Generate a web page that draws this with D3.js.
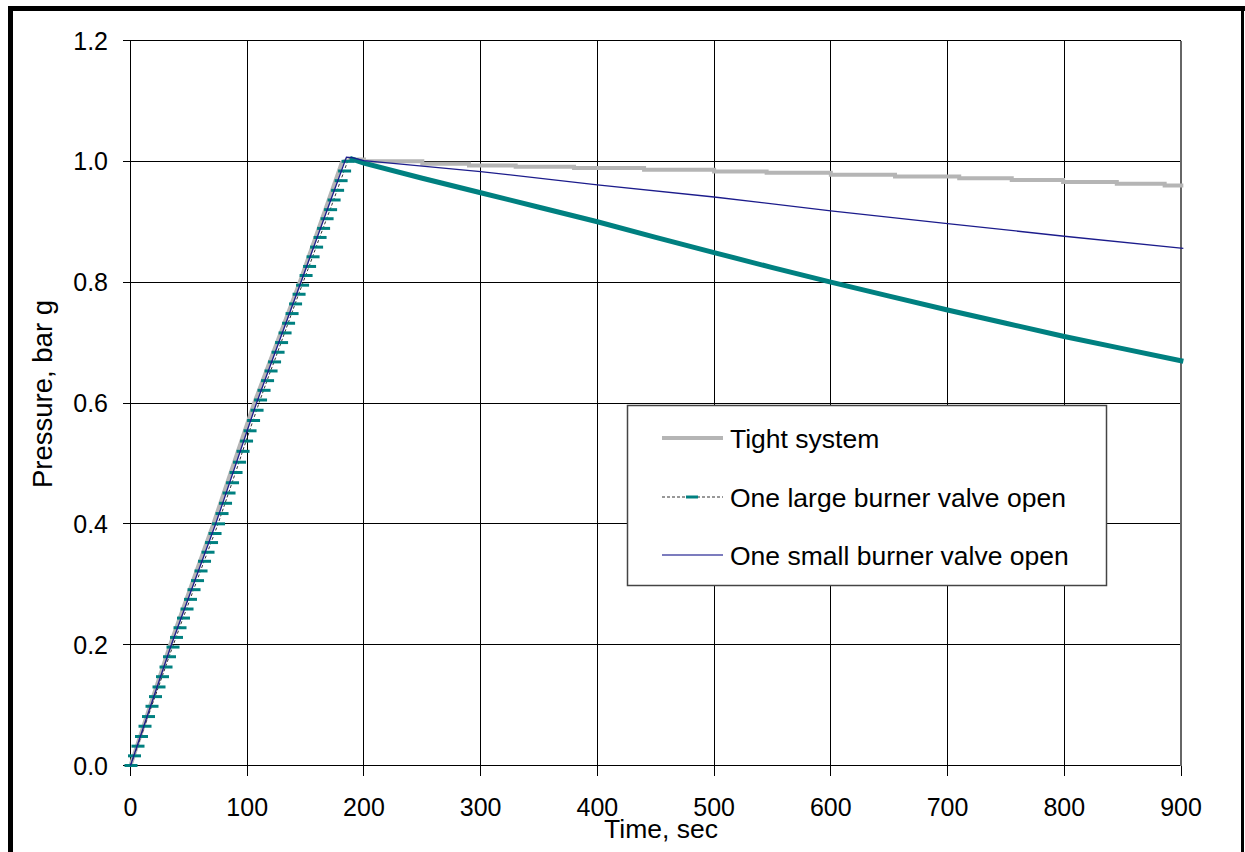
<html>
<head>
<style>
  body { margin: 0; background: #ffffff; }
  svg text { font-family: Arial, "Liberation Sans", sans-serif; fill: #000; }
</style>
<script src="https://cdn.jsdelivr.net/npm/d3@7"></script>
</head>
<body>
<svg id="chart" width="1245" height="852"></svg>
<script>
// axis ticks
const xTicks = [0, 100, 200, 300, 400, 500, 600, 700, 800, 900];
const yTicks = [0.0, 0.2, 0.4, 0.6, 0.8, 1.0, 1.2];

// Tight system: ramp then slow stepwise decay  [time s, pressure bar g]
const tightRamp = [[0, 0], [34, 0.2], [71, 0.4], [106, 0.6], [145, 0.8], [176, 0.97], [181, 0.998], [186, 1.003]];
const tightDecay = [[186, 1.003], [200, 1.000], [250, 0.996], [290, 0.993], [330, 0.991], [380, 0.989], [440, 0.986],
  [500, 0.983], [545, 0.981], [600, 0.978], [655, 0.975], [710, 0.972], [755, 0.969], [799, 0.966], [845, 0.963], [886, 0.960], [902, 0.960]];

// One large burner valve open: logged every ~3 s during fill, then decay
const largeRamp = [[0, 0.000], [3, 0.016], [6, 0.032], [9, 0.048], [12, 0.065], [15, 0.081], [18, 0.098], [21, 0.114],
  [24, 0.130], [27, 0.147], [30, 0.163], [33, 0.180], [36, 0.196], [39, 0.212], [42, 0.228], [45, 0.244], [48, 0.259],
  [51, 0.275], [54, 0.291], [57, 0.306], [60, 0.322], [63, 0.338], [66, 0.353], [69, 0.369], [72, 0.384], [75, 0.400],
  [78, 0.417], [81, 0.434], [84, 0.451], [87, 0.468], [90, 0.485], [93, 0.502], [96, 0.520], [99, 0.537], [102, 0.554],
  [105, 0.571], [108, 0.588], [111, 0.605], [114, 0.621], [117, 0.637], [120, 0.653], [123, 0.668], [126, 0.684],
  [129, 0.700], [132, 0.716], [135, 0.732], [138, 0.748], [141, 0.764], [144, 0.780], [147, 0.795], [150, 0.811],
  [153, 0.826], [156, 0.842], [159, 0.858], [162, 0.874], [165, 0.889], [168, 0.905], [171, 0.920], [174, 0.936],
  [177, 0.952], [180, 0.968], [183, 0.984], [186, 1.000]];
const largeDecay = [[188, 1.005], [200, 0.997], [250, 0.972], [300, 0.948], [350, 0.924], [400, 0.900], [450, 0.874],
  [500, 0.849], [550, 0.824], [600, 0.800], [650, 0.777], [700, 0.754], [750, 0.732], [800, 0.710], [850, 0.690], [902, 0.669]];

// One small burner valve open
const smallValve = [[0, 0], [35, 0.2], [73, 0.4], [108, 0.6], [146, 0.8], [178, 0.97], [185, 1.007], [190, 1.006],
  [200, 1.001], [300, 0.983], [400, 0.961], [500, 0.941], [600, 0.918], [700, 0.897], [800, 0.876], [902, 0.856]];

const legendItems = ["Tight system", "One large burner valve open", "One small burner valve open"];

const svg = d3.select("#chart");
const x = d3.scaleLinear().domain([0, 900]).range([130.5, 1181]);
const y = d3.scaleLinear().domain([0, 1.2]).range([765.5, 40.5]);
const line = d3.line().x(d => x(d[0])).y(d => y(d[1]));

// outer frame
svg.append("line").attr("x1", 8).attr("x2", 1245).attr("y1", 8.5).attr("y2", 8.5).attr("stroke", "#000").attr("stroke-width", 5);
svg.append("line").attr("x1", 10.5).attr("x2", 10.5).attr("y1", 6).attr("y2", 852).attr("stroke", "#000").attr("stroke-width", 5);
svg.append("line").attr("x1", 1242.5).attr("x2", 1242.5).attr("y1", 6).attr("y2", 852).attr("stroke", "#000").attr("stroke-width", 3);

// grid
const grid = svg.append("g").attr("shape-rendering", "crispEdges");
grid.selectAll(".gx").data(xTicks).join("line")
  .attr("x1", d => x(d)).attr("x2", d => x(d)).attr("y1", y(1.2)).attr("y2", y(0) + 10)
  .attr("stroke", "#000").attr("stroke-width", 1);
grid.selectAll(".gy").data(yTicks).join("line")
  .attr("y1", d => y(d)).attr("y2", d => y(d)).attr("x1", x(0) - 8).attr("x2", x(900))
  .attr("stroke", "#000").attr("stroke-width", 1);
grid.append("line").attr("x1", x(900)).attr("x2", x(900)).attr("y1", y(1.2)).attr("y2", y(0))
  .attr("stroke", "#666").attr("stroke-width", 2);

// tick labels
svg.append("g").selectAll("text").data(yTicks).join("text")
  .attr("x", 108).attr("y", d => y(d)).attr("dy", "0.36em")
  .attr("text-anchor", "end").attr("font-size", 25)
  .text(d => d3.format(".1f")(d));
svg.append("g").selectAll("text").data(xTicks).join("text")
  .attr("x", d => x(d)).attr("y", 807).attr("dy", "0.36em")
  .attr("text-anchor", "middle").attr("font-size", 25)
  .text(d => d);

// axis titles
svg.append("text").attr("x", 661).attr("y", 828).attr("dy", "0.36em")
  .attr("text-anchor", "middle").attr("font-size", 26.5).text("Time, sec");
svg.append("text").attr("transform", "translate(42,394) rotate(-90)").attr("dy", "0.36em")
  .attr("text-anchor", "middle").attr("font-size", 27.5).text("Pressure, bar g");

// tight system
svg.append("path").datum(tightRamp).attr("d", line)
  .attr("fill", "none").attr("stroke", "#b5b5b5").attr("stroke-width", 4);
svg.append("path").datum(tightDecay).attr("d", line.curve(d3.curveStepAfter))
  .attr("fill", "none").attr("stroke", "#b5b5b5").attr("stroke-width", 4);
line.curve(d3.curveLinear);

// large valve: dashed dark line with teal dash markers
svg.append("path").datum(largeRamp.concat(largeDecay)).attr("d", line)
  .attr("fill", "none").attr("stroke", "#333").attr("stroke-width", 1).attr("stroke-dasharray", "3,2");
svg.append("g").selectAll("line").data(largeRamp).join("line")
  .attr("x1", d => x(d[0]) - 6).attr("x2", d => x(d[0]) + 7)
  .attr("y1", d => y(d[1])).attr("y2", d => y(d[1]))
  .attr("stroke", "#008080").attr("stroke-width", 3);
svg.append("path").datum(largeDecay).attr("d", line)
  .attr("fill", "none").attr("stroke", "#008080").attr("stroke-width", 5);

// small valve
svg.append("path").datum(smallValve).attr("d", line)
  .attr("fill", "none").attr("stroke", "#1c1c8c").attr("stroke-width", 1.3);

// legend
const lg = svg.append("g");
lg.append("rect").attr("x", 627.5).attr("y", 405.5).attr("width", 479).attr("height", 180)
  .attr("fill", "#fff").attr("stroke", "#444").attr("stroke-width", 1.5);
const rows = [438, 497, 555];
lg.append("line").attr("x1", 662).attr("x2", 723).attr("y1", rows[0]).attr("y2", rows[0])
  .attr("stroke", "#b5b5b5").attr("stroke-width", 4);
lg.append("line").attr("x1", 662).attr("x2", 723).attr("y1", rows[1]).attr("y2", rows[1])
  .attr("stroke", "#333").attr("stroke-width", 1).attr("stroke-dasharray", "3,2");
lg.append("line").attr("x1", 686).attr("x2", 698).attr("y1", rows[1]).attr("y2", rows[1])
  .attr("stroke", "#008080").attr("stroke-width", 3);
lg.append("line").attr("x1", 662).attr("x2", 723).attr("y1", rows[2]).attr("y2", rows[2])
  .attr("stroke", "#5050a8").attr("stroke-width", 1.5);
lg.selectAll("text.item").data(legendItems).join("text")
  .attr("x", 730).attr("y", (d, i) => rows[i]).attr("dy", "0.36em")
  .attr("font-size", 26.5).text(d => d);
</script>
</body>
</html>
